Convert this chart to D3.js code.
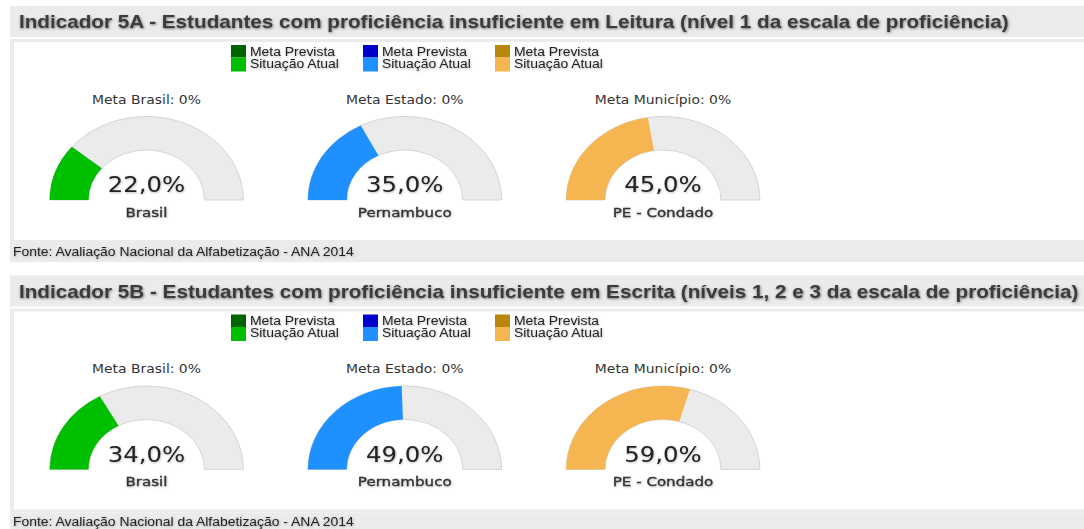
<!DOCTYPE html>
<html lang="pt">
<head>
  <meta charset="UTF-8">
  <title>Indicador 5A / 5B</title>
  <script src="https://d3js.org/d3.v7.min.js"></script>
  <style>
    body { margin: 0; background: #fff; }
    svg { display: block; }
    .title { font-family: Arial, "Liberation Sans", sans-serif; font-weight: bold; font-size: 18px; fill: #3a3a3a; }
    .leg { font-family: Arial, "Liberation Sans", sans-serif; font-size: 12px; fill: #222; }
    .fonte { font-family: Arial, "Liberation Sans", sans-serif; font-size: 12px; fill: #222; }
    .meta { font-family: "DejaVu Sans", Verdana, sans-serif; font-size: 12px; fill: #333; }
    .valor { font-family: "DejaVu Sans", Verdana, sans-serif; font-size: 21px; fill: #222; }
    .nome { font-family: "DejaVu Sans", Verdana, sans-serif; font-size: 13px; fill: #333; stroke: #333; stroke-width: 0.35px; }
  </style>
</head>
<body>
<div id="chart"></div>
<script>
  // data
  const titles = [
    "Indicador 5A - Estudantes com proficiência insuficiente em Leitura (nível 1 da escala de proficiência)",
    "Indicador 5B - Estudantes com proficiência insuficiente em Escrita (níveis 1, 2 e 3 da escala de proficiência)"
  ];
  const gaugeNames = ["Brasil", "Pernambuco", "PE - Condado"];
  const metaLabels = ["Meta Brasil: 0%", "Meta Estado: 0%", "Meta Município: 0%"];
  const valores5A = [22.0, 35.0, 45.0];
  const valores5B = [34.0, 49.0, 59.0];
  const legendLabels = ["Meta Prevista", "Situação Atual"];
  const corMeta = ["#006400", "#0000cd", "#b8860b"];
  const corAtual = ["#00bf00", "#1e90ff", "#f5b651"];
  const fonte = "Fonte: Avaliação Nacional da Alfabetização - ANA 2014";

  const rows = [valores5A, valores5B];

  const width = 1084, height = 529;
  const sx = 1.16;            // the source picture is stretched horizontally
  const rowStep = 269.5;

  const svg = d3.select("#chart").append("svg")
    .attr("width", width)
    .attr("height", height);

  const defs = svg.append("defs");
  const sh = defs.append("filter").attr("id", "shadow")
    .attr("x", "-5%").attr("y", "-40%").attr("width", "110%").attr("height", "180%");
  sh.append("feDropShadow").attr("dx", 0.5).attr("dy", 1).attr("stdDeviation", 1.2)
    .attr("flood-color", "#000").attr("flood-opacity", 0.5);
  const sh2 = defs.append("filter").attr("id", "shadowSoft")
    .attr("x", "-5%").attr("y", "-40%").attr("width", "110%").attr("height", "180%");
  sh2.append("feDropShadow").attr("dx", 0.5).attr("dy", 0.8).attr("stdDeviation", 0.8)
    .attr("flood-color", "#000").attr("flood-opacity", 0.3);

  // gauge scales
  const angle = d3.scaleLinear().domain([0, 100]).range([-Math.PI / 2, Math.PI / 2]);
  const arc = d3.arc().innerRadius(50).outerRadius(83.5);

  // x position of the gauges / legend items (screen px)
  const gaugeX = d3.scalePoint().domain(gaugeNames).range([146.5, 663]);
  const legendX = d3.scalePoint().domain(corMeta).range([231, 495]);

  const stretch = (x, k) => `translate(${x},0) scale(${k},1) translate(${-x},0)`;

  rows.forEach((vals, r) => {
    const oy = r * rowStep;
    const row = svg.append("g").attr("transform", `translate(0,${oy})`);

    // header band
    row.append("rect").attr("x", 10).attr("y", 6).attr("width", width - 10).attr("height", 31).attr("fill", "#ebebeb");
    row.append("text").attr("class", "title").attr("x", 19).attr("y", 28.5)
      .attr("transform", stretch(19, 1.15))
      .attr("filter", "url(#shadow)").text(titles[r]);

    // panel
    row.append("rect").attr("x", 10).attr("y", 39).attr("width", width - 10).attr("height", 204).attr("fill", "#ebebeb");
    row.append("rect").attr("x", 14).attr("y", 42).attr("width", width - 14).attr("height", 198).attr("fill", "#fff");

    // footer
    row.append("rect").attr("x", 10).attr("y", 243).attr("width", width - 10).attr("height", 19).attr("fill", "#ebebeb");
    row.append("text").attr("class", "fonte").attr("x", 13).attr("y", 256.5)
      .attr("filter", "url(#shadowSoft)")
      .attr("transform", stretch(13, sx))
      .text(fonte);

    // legend
    const leg = row.selectAll(".legItem").data(corMeta).enter().append("g")
      .attr("class", "legItem")
      .attr("transform", d => `translate(${legendX(d)},45)`);
    leg.append("rect").attr("width", 15).attr("height", 12.5).attr("fill", d => d);
    leg.append("rect").attr("y", 12.5).attr("width", 15).attr("height", 14).attr("fill", (d, i) => corAtual[i]);
    leg.selectAll("text").data(legendLabels).enter().append("text")
      .attr("class", "leg")
      .attr("x", 19).attr("y", (d, i) => 10.5 + i * 12.5)
      .attr("transform", stretch(19, sx))
      .attr("filter", "url(#shadowSoft)")
      .text(d => d);

    // gauges
    const g = row.selectAll(".gauge").data(vals).enter().append("g")
      .attr("class", "gauge")
      .attr("transform", (d, i) => `translate(${gaugeX(gaugeNames[i])},200) scale(${sx},1)`);

    g.append("path")
      .attr("d", arc({ startAngle: angle(0), endAngle: angle(100) }))
      .attr("fill", "#ebebeb")
      .attr("stroke", "#cfcfcf")
      .attr("stroke-width", 0.8);
    g.append("path")
      .attr("d", d => arc({ startAngle: angle(0), endAngle: angle(d) }))
      .attr("fill", (d, i) => corAtual[i]);

    g.append("text").attr("class", "meta").attr("text-anchor", "middle").attr("y", -96.5)
      .text((d, i) => metaLabels[i]);
    g.append("text").attr("class", "valor").attr("text-anchor", "middle").attr("y", -8)
      .attr("filter", "url(#shadowSoft)")
      .text(d => d3.format(".1f")(d).replace(".", ",") + "%");
    g.append("text").attr("class", "nome").attr("text-anchor", "middle").attr("y", 17)
      .attr("filter", "url(#shadowSoft)")
      .text((d, i) => gaugeNames[i]);
  });
</script>
</body>
</html>
